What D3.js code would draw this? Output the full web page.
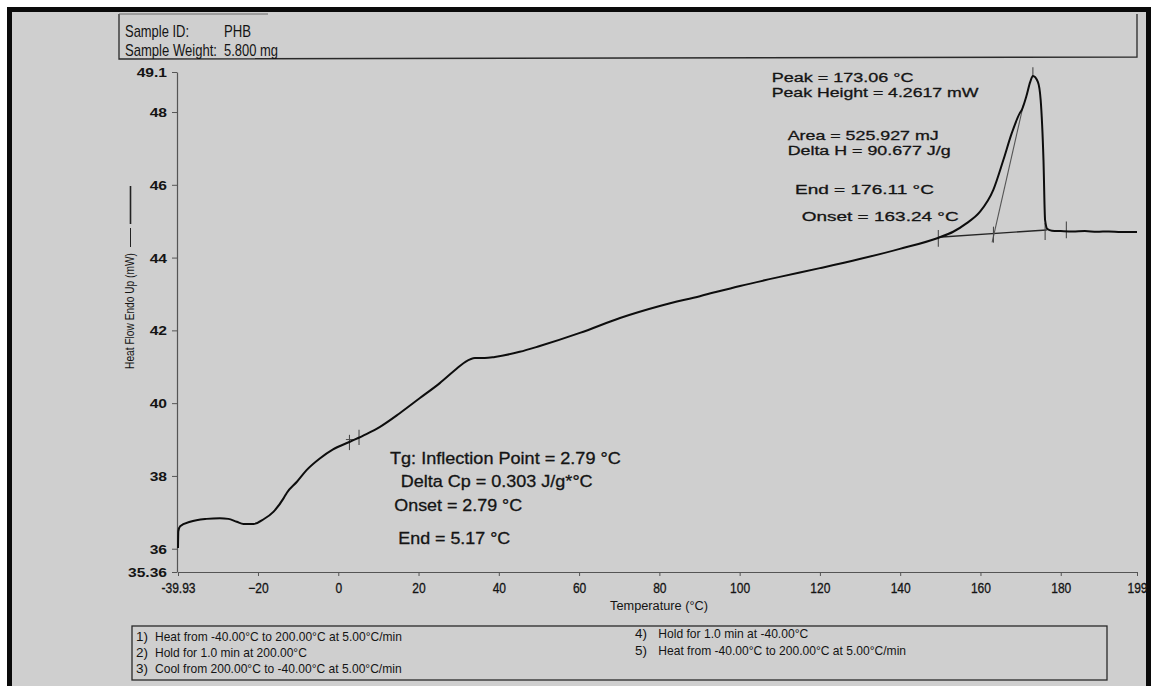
<!DOCTYPE html>
<html>
<head>
<meta charset="utf-8">
<script src="https://cdn.jsdelivr.net/npm/d3@7/dist/d3.min.js"></script>
<style>
  html, body { margin: 0; padding: 0; background: #ffffff; }
  svg { display: block; }
  text { font-family: "Liberation Sans", Arial, sans-serif; fill: #141414; }
  .note { stroke: #141414; stroke-width: 0.3px; }
</style>
</head>
<body>
<svg id="chart" width="1156" height="686"></svg>
<script>
// DSC heating scan of PHB: temperature (°C) vs heat flow (mW, endo up)
const temps = [-39.93, -39.85, -39.4, -36.9, -32.8, -29.5, -27.4, -25.3, -23.6, -21.1, -18.6, -16.1,
  -13.6, -12.8, -10.3, -7.9, -4.6, -1.3, 2.9, 7.0, 10.4, 15.4, 20.35, 25.3, 29.1, 31.6, 34.05, 36.5,
  39.0, 45.2, 50.2, 60.2, 70.2, 80.1, 90.1, 100.1, 110.0, 120.0, 129.9, 139.9, 149.4, 153.2, 156.5,
  159.9, 163.2, 165.7, 167.8, 169.8, 170.3, 171.4, 172.4, 173.06, 174.3, 175.0, 175.7, 176.1, 176.7,
  177.8, 180, 183, 186, 189, 192, 195, 199];
const heatFlow = [36.02, 36.48, 36.62, 36.74, 36.82, 36.84, 36.82, 36.74, 36.68, 36.68, 36.81, 37.02,
  37.39, 37.54, 37.84, 38.16, 38.48, 38.73, 38.94, 39.15, 39.35, 39.73, 40.14, 40.55, 40.91, 41.13, 41.24, 41.24,
  41.27, 41.41, 41.57, 41.93, 42.34, 42.67, 42.94, 43.22, 43.47, 43.71, 43.96, 44.24, 44.54, 44.71, 44.94,
  45.26, 45.86, 46.68, 47.42, 47.97, 48.06, 48.42, 48.83, 48.99, 48.83, 48.33, 46.68, 45.03, 44.78,
  44.74, 44.73, 44.72, 44.73, 44.71, 44.72, 44.70, 44.70];

// melting-peak construction lines
const baselineT = [149.5, 176.5];
const baselineV = [44.56, 44.76];
const tangentT = [162.9, 170.7];
const tangentV = [44.42, 48.2];
// short vertical markers: temperature, low value, high value
const markerT = [149.5, 163.24, 176.11, 181.4, 173.06, 2.79, 5.17];
const markerLo = [44.30, 44.41, 44.48, 44.53, 48.97, 38.71, 38.85];
const markerHi = [44.76, 44.85, 44.95, 44.99, 49.23, 39.13, 39.27];

// axis ticks
const xTicks = [-39.93, -20, 0, 20, 40, 60, 80, 100, 120, 140, 160, 180, 199];
const yTicks = [35.36, 36, 38, 40, 42, 44, 46, 48, 49.1];

// annotation text
const peakNotes = ["Peak = 173.06 °C", "Peak Height = 4.2617 mW", "Area = 525.927 mJ",
  "Delta H = 90.677 J/g", "End = 176.11 °C", "Onset = 163.24 °C"];
const tgNotes = ["Tg: Inflection Point = 2.79 °C", "Delta Cp = 0.303 J/g*°C", "Onset = 2.79 °C", "End = 5.17 °C"];
const methodSteps = ["Heat from -40.00°C to 200.00°C at 5.00°C/min", "Hold for 1.0 min at 200.00°C",
  "Cool from 200.00°C to -40.00°C at 5.00°C/min", "Hold for 1.0 min at -40.00°C",
  "Heat from -40.00°C to 200.00°C at 5.00°C/min"];

const svg = d3.select("#chart");

// sheet with heavy black border
svg.append("rect").attr("x", 9.5).attr("y", 9.5).attr("width", 1139).attr("height", 682)
  .attr("fill", "#cfcfcf").attr("stroke", "#0a0a0a").attr("stroke-width", 5);

const x = d3.scaleLinear().domain([-39.93, 199]).range([178, 1137]);
const y = d3.scaleLinear().domain([35.36, 49.1]).range([572, 72]);

// text helper: squeezes or widens the glyphs horizontally to a given printed width
function label(g, px, py, str, size, width, opts = {}) {
  const t = g.append("text").text(str).style("font-size", size + "px");
  if (opts.anchor) t.attr("text-anchor", opts.anchor);
  if (opts.cls) t.attr("class", opts.cls);
  const sx = width / t.node().getComputedTextLength();
  const rot = opts.rotate ? ` rotate(${opts.rotate})` : "";
  t.attr("transform", `translate(${px},${py})${rot} scale(${sx},1)`);
  return t;
}

// header box
const head = svg.append("g");
head.append("path").attr("d", "M119,14 L119,59 L1137,57 L1137,14")
  .attr("fill", "none").attr("stroke", "#2a2a2a").attr("stroke-width", 1.3);
head.append("line").attr("x1", 119).attr("x2", 268).attr("y1", 14).attr("y2", 14)
  .attr("stroke", "#6a6a6a").attr("stroke-width", 1);
label(head, 125, 37, "Sample ID:", 16, 64);
label(head, 224, 37, "PHB", 16, 27);
label(head, 125, 56, "Sample Weight:", 16, 92);
label(head, 224, 56, "5.800 mg", 16, 54);

// axes
const xAxis = svg.append("g").attr("transform", "translate(0,572)")
  .call(d3.axisBottom(x).tickValues(xTicks).tickSize(4).tickSizeOuter(0)
    .tickFormat(d => d === -39.93 ? "-39.93" : d3.format("d")(d)));
xAxis.select(".domain").attr("stroke", "#555").attr("stroke-width", 1.2);
xAxis.selectAll(".tick line").attr("stroke", "#555");
xAxis.selectAll(".tick text").attr("y", 21).attr("dy", 0)
  .style("font-size", "14px").style("fill", "#141414").style("font-family", "Liberation Sans, Arial")
  .style("stroke", "#141414").style("stroke-width", "0.3px")
  .attr("transform", "scale(0.86,1)");

const yAxis = svg.append("g").attr("transform", "translate(177,0)")
  .call(d3.axisLeft(y).tickValues(yTicks).tickSize(5).tickSizeOuter(0)
    .tickFormat(d => (d === 35.36 || d === 49.1) ? String(d) : d3.format("d")(d)));
yAxis.select(".domain").attr("stroke", "#555").attr("stroke-width", 1.2);
yAxis.selectAll(".tick line").attr("stroke", "#555");
yAxis.selectAll(".tick text").attr("x", -10 / 1.25).attr("dy", "0.36em")
  .style("font-size", "12.5px").style("font-weight", "bold").style("fill", "#141414")
  .style("font-family", "Liberation Sans, Arial")
  .attr("transform", "scale(1.25,1)");

// axis titles
label(svg, 659, 610, "Temperature (°C)", 13.5, 98, { anchor: "middle" });
label(svg, 134, 311, "Heat Flow Endo Up (mW)", 13.5, 116, { anchor: "middle", rotate: -90 });
svg.append("line").attr("x1", 130.5).attr("x2", 130.5).attr("y1", 228).attr("y2", 247)
  .attr("stroke", "#222").attr("stroke-width", 1);
svg.append("line").attr("x1", 130.5).attr("x2", 130.5).attr("y1", 186).attr("y2", 224)
  .attr("stroke", "#222").attr("stroke-width", 1.6);

// construction lines
svg.append("line").attr("x1", x(baselineT[0])).attr("y1", y(baselineV[0]))
  .attr("x2", x(baselineT[1])).attr("y2", y(baselineV[1]))
  .attr("stroke", "#262626").attr("stroke-width", 1.4);
svg.append("line").attr("x1", x(tangentT[0])).attr("y1", y(tangentV[0]))
  .attr("x2", x(tangentT[1])).attr("y2", y(tangentV[1]))
  .attr("stroke", "#555").attr("stroke-width", 1.1);
svg.append("g").selectAll("line").data(markerT).join("line")
  .attr("x1", d => x(d)).attr("x2", d => x(d))
  .attr("y1", (d, i) => y(markerLo[i])).attr("y2", (d, i) => y(markerHi[i]))
  .attr("stroke", "#4a4a4a").attr("stroke-width", 1.1);
// small bar on the glass-transition marker
svg.append("line").attr("x1", x(1.9)).attr("x2", x(3.9)).attr("y1", y(39.0)).attr("y2", y(39.0))
  .attr("stroke", "#4a4a4a").attr("stroke-width", 1);

// heat-flow curve
const line = d3.line().x(d => x(d[0])).y(d => y(d[1])).curve(d3.curveMonotoneX);
svg.append("path").datum(temps.map((t, i) => [t, heatFlow[i]]))
  .attr("d", line).attr("fill", "none").attr("stroke", "#0d0d0d").attr("stroke-width", 2);

// peak annotations
const peakPos = [[771.7, 82, 142], [771.7, 97, 207], [787.7, 139.5, 151], [787.7, 154.5, 163],
  [795, 194, 139], [801.7, 220.7, 157]];
peakNotes.forEach((s, i) => label(svg, peakPos[i][0], peakPos[i][1], s, 13.5, peakPos[i][2], { cls: "note" }));

const tgPos = [[390, 464, 231], [400.7, 486.7, 192], [394.3, 510.7, 128], [398.3, 544, 112]];
tgNotes.forEach((s, i) => label(svg, tgPos[i][0], tgPos[i][1], s, 16.5, tgPos[i][2], { cls: "note" }));

// method box
const meth = svg.append("g");
meth.append("rect").attr("x", 132).attr("y", 626).attr("width", 975).attr("height", 54)
  .attr("fill", "none").attr("stroke", "#2a2a2a").attr("stroke-width", 1.3);
const methPos = [[136, 155, 640.7, 247], [136, 155, 656.7, 152], [136, 155, 673.3, 247],
  [635, 658.3, 638.3, 150], [635, 658.3, 655, 248]];
methodSteps.forEach((s, i) => {
  const p = methPos[i];
  label(meth, p[0], p[2], (i + 1) + ")", 13, 12);
  label(meth, p[1], p[2], s, 13, p[3]);
});
</script>
</body>
</html>
